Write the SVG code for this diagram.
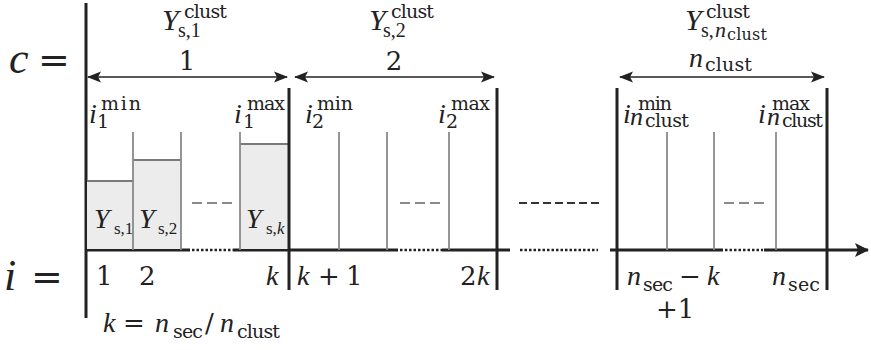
<svg xmlns="http://www.w3.org/2000/svg" width="871" height="350" viewBox="0 0 871 350">
<style>
text{font-family:"DejaVu Serif","Liberation Serif",serif;fill:#222}
.it{font-family:"Liberation Serif","DejaVu Serif",serif;font-style:italic}
.lib{font-family:"Liberation Serif","DejaVu Serif",serif}
.m{font-size:26px}
.v{font-size:28px}
.Y{font-size:30px}
.s{font-size:19px}
.sn{font-size:26px}
.ss{font-size:16px}
.thick{stroke:#222;stroke-width:3;fill:none}
.gray{stroke:#8a8a8a;stroke-width:1.8;fill:none}
.box{fill:#ececec;stroke:none}
.boxtop{stroke:#7a7a7a;stroke-width:2}
.gdash{stroke:#8a8a8a;stroke-width:1.8;stroke-dasharray:10 5}
.dots{stroke:#222;stroke-width:2.5;stroke-dasharray:2.5 2}
.span{stroke:#222;stroke-width:1.5;marker-start:url(#ah);marker-end:url(#ah)}
</style>
<defs>
<marker id="ah" viewBox="0 0 14 12" refX="13" refY="6" markerWidth="14" markerHeight="12" markerUnits="userSpaceOnUse" orient="auto-start-reverse">
<path d="M0,0.5 L14,6 L0,11.5 L3,6 Z" fill="#222"/>
</marker>
<marker id="ax" viewBox="0 0 14 14" refX="13" refY="7" markerWidth="14" markerHeight="14" markerUnits="userSpaceOnUse" orient="auto">
<path d="M0,0 L14,7 L0,14 L3,7 Z" fill="#222"/>
</marker>
</defs>

<g id="labels-left">
<text class="it" font-size="44" x="9" y="73">c</text>
<text font-size="38" x="38" y="73">=</text>
<text class="it" font-size="44" x="4" y="290">i</text>
<text font-size="38" x="31" y="290">=</text>
</g>

<g id="connectors">
<line class="thick" x1="86" y1="3" x2="86" y2="318"/>
<line class="thick" x1="86" y1="250" x2="190" y2="250"/>
<line class="dots" x1="192" y1="250" x2="233" y2="250"/>
<line class="thick" x1="233" y1="250" x2="398" y2="250"/>
<line class="dots" x1="400" y1="250" x2="442" y2="250"/>
<line class="thick" x1="442" y1="250" x2="510" y2="250"/>
<line class="dots" x1="520" y1="250" x2="598" y2="250"/>
<line class="thick" x1="610" y1="250" x2="723" y2="250"/>
<line class="dots" x1="725" y1="250" x2="763" y2="250"/>
<line class="thick" x1="764" y1="250" x2="868" y2="250" marker-end="url(#ax)"/>
<line class="span" x1="88" y1="77" x2="287" y2="77"/>
<line class="span" x1="295" y1="77" x2="494" y2="77"/>
<line class="span" x1="620" y1="77" x2="824" y2="77"/>
<line x1="519" y1="203" x2="600" y2="203" stroke="#333" stroke-width="2" stroke-dasharray="8 4"/>
</g>

<g id="cluster-1">
<rect class="box" x="87" y="181" width="46" height="68"/>
<rect class="box" x="133" y="160" width="48" height="89"/>
<rect class="box" x="240" y="144" width="48" height="105"/>
<line class="boxtop" x1="87" y1="181" x2="133" y2="181"/>
<line class="boxtop" x1="133" y1="160" x2="181" y2="160"/>
<line class="boxtop" x1="240" y1="144" x2="288" y2="144"/>
<line class="gray" x1="133" y1="132" x2="133" y2="250"/>
<line class="gray" x1="181" y1="132" x2="181" y2="250"/>
<line class="gray" x1="240" y1="132" x2="240" y2="250"/>
<line class="gdash" x1="192" y1="203" x2="232" y2="203"/>
<line class="thick" x1="289" y1="88" x2="289" y2="290"/>
<text class="it Y" x="162" y="30">Y</text>
<text class="s" x="184" y="18" textLength="43">clust</text>
<text class="lib" font-size="20" x="178" y="37">s,1</text>
<text class="m" x="187" y="70" text-anchor="middle">1</text>
<text class="it v" x="89" y="123">i</text>
<text class="s" x="101" y="110" textLength="40">min</text>
<text class="s" x="97" y="128">1</text>
<text class="it v" x="234" y="123">i</text>
<text class="s" x="247" y="110" textLength="38">max</text>
<text class="s" x="243" y="128">1</text>
<text class="it v" x="94" y="228">Y</text>
<text class="lib" font-size="17" x="114" y="234">s,1</text>
<text class="it v" x="139" y="228">Y</text>
<text class="lib" font-size="17" x="158" y="234">s,2</text>
<text class="it v" x="246" y="228">Y</text>
<text class="lib" font-size="17" x="266" y="234">s,<tspan class="it">k</tspan></text>
<text class="m" x="96" y="285">1</text>
<text class="m" x="139" y="285">2</text>
<text class="it v" x="266" y="285">k</text>
</g>

<g id="cluster-2">
<line class="gray" x1="339" y1="132" x2="339" y2="250"/>
<line class="gray" x1="387" y1="132" x2="387" y2="250"/>
<line class="gray" x1="449" y1="132" x2="449" y2="250"/>
<line class="gdash" x1="400" y1="203" x2="440" y2="203"/>
<line class="thick" x1="497" y1="88" x2="497" y2="290"/>
<text class="it Y" x="369" y="30">Y</text>
<text class="s" x="391" y="18" textLength="43">clust</text>
<text class="lib" font-size="20" x="383" y="37">s,2</text>
<text class="m" x="394" y="70" text-anchor="middle">2</text>
<text class="it v" x="305" y="123">i</text>
<text class="s" x="317" y="110" textLength="36">min</text>
<text class="s" x="312" y="128">2</text>
<text class="it v" x="438" y="123">i</text>
<text class="s" x="451" y="110" textLength="39">max</text>
<text class="s" x="446" y="128">2</text>
<text class="it v" x="297" y="285">k</text>
<text class="m" x="318" y="285">+</text>
<text class="m" x="346" y="285">1</text>
<text class="m" x="460" y="285">2</text>
<text class="it v" x="477" y="285">k</text>
</g>

<g id="cluster-n">
<line class="thick" x1="617" y1="88" x2="617" y2="290"/>
<line class="gray" x1="667" y1="132" x2="667" y2="250"/>
<line class="gray" x1="714" y1="132" x2="714" y2="250"/>
<line class="gray" x1="776" y1="132" x2="776" y2="250"/>
<line class="gdash" x1="724" y1="203" x2="764" y2="203"/>
<line class="thick" x1="827" y1="88" x2="827" y2="290"/>
<text class="it Y" x="685" y="30">Y</text>
<text class="s" x="706" y="18" textLength="44">clust</text>
<text class="lib" font-size="20" x="701" y="37">s,</text>
<text class="it" font-size="22" x="715" y="37">n</text>
<text class="ss" x="727" y="40" textLength="40">clust</text>
<text class="it v" x="689" y="67">n</text>
<text class="s" x="705" y="71" textLength="47">clust</text>
<text class="it v" x="623" y="123">i</text>
<text class="s" x="638" y="110" textLength="34">min</text>
<text class="it sn" x="630" y="125">n</text>
<text class="s" x="645" y="127" textLength="44" font-size="17">clust</text>
<text class="it v" x="758" y="123">i</text>
<text class="s" x="772" y="110" textLength="38">max</text>
<text class="it sn" x="767" y="125">n</text>
<text class="s" x="782" y="127" textLength="41" font-size="17">clust</text>
<text class="it v" x="627" y="285">n</text>
<text class="s" x="643" y="291" textLength="30">sec</text>
<text class="m" x="679" y="285">−</text>
<text class="it v" x="707" y="285">k</text>
<text class="m" x="656" y="318">+1</text>
<text class="it v" x="772" y="285">n</text>
<text class="s" x="788" y="291" textLength="32">sec</text>
</g>

<g id="formula">
<text class="it v" x="103" y="332">k</text>
<text class="m" x="123" y="332">=</text>
<text class="it v" x="155" y="332">n</text>
<text class="s" x="173" y="338" textLength="30">sec</text>
<text class="m" x="205" y="332">/</text>
<text class="it v" x="220" y="332">n</text>
<text class="s" x="237" y="338" textLength="43">clust</text>
</g>
</svg>
